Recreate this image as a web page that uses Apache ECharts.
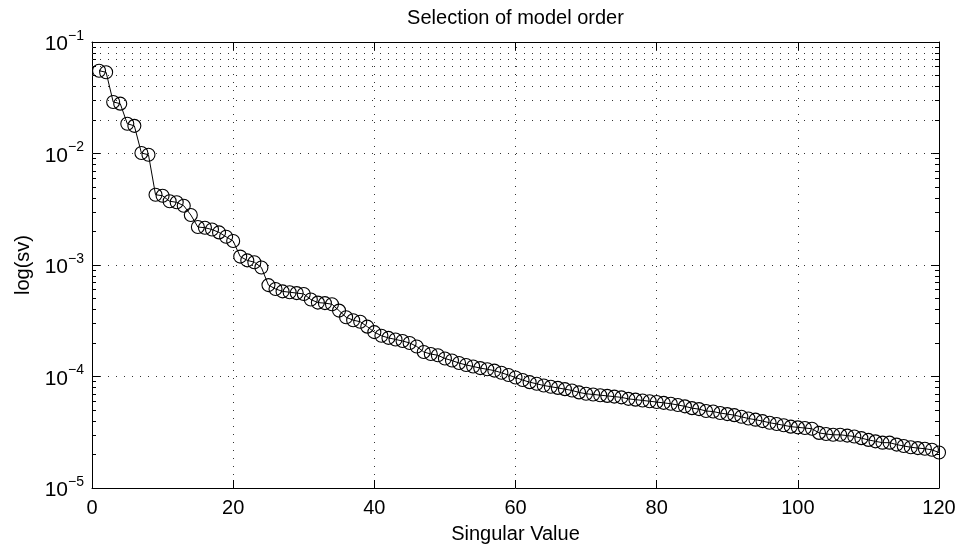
<!DOCTYPE html>
<html>
<head>
<meta charset="utf-8">
<script src="https://cdn.jsdelivr.net/npm/echarts@6/dist/echarts.min.js"></script>
<style>
  html, body { margin: 0; padding: 0; background: #fff; }
  #chart { width: 965px; height: 550px; }
</style>
</head>
<body>
<div id="chart"></div>
<script>
// singular values, index 1..120
const svIndex = [];
for (let i = 1; i <= 120; i++) svIndex.push(i);

const svValues = [
    0.0553, 0.0535, 0.0290, 0.0280, 0.0185, 0.0177, 0.0101, 0.00975, 0.00427, 0.00418,
    0.00373, 0.00365, 0.00340, 0.00281, 0.00219, 0.00216, 0.00208, 0.00196, 0.00179, 0.00164,
    0.00119, 0.00110, 0.00106, 0.00095, 0.00066, 0.00061, 0.00058, 0.00057, 0.00056, 0.00055,
    0.00049, 0.00046, 0.000455, 0.000445, 0.00039, 0.00034, 0.00032, 0.00031, 0.00028, 0.00025,
    0.000232, 0.000222, 0.000215, 0.000208, 0.000200, 0.000186, 0.000166, 0.000159, 0.000155, 0.000145,
    0.000139, 0.000132, 0.000127, 0.000123, 0.000119, 0.000116, 0.000113, 0.000108, 0.000103, 0.000098,
    0.000093, 0.000089, 0.000086, 0.000083, 0.000081, 0.000079, 0.000077, 0.000075, 0.000072, 0.000070,
    0.000069, 0.000068, 0.000067, 0.000066, 0.000065, 0.000063, 0.000062, 0.000061, 0.000060, 0.000059,
    0.000058, 0.000057, 0.0000555, 0.000054, 0.000052, 0.000051, 0.000049, 0.0000485, 0.000047, 0.000046,
    0.000045, 0.0000435, 0.000042, 0.000041, 0.0000398, 0.0000385, 0.0000375, 0.0000365, 0.0000355, 0.000035,
    0.0000345, 0.000034, 0.0000312, 0.0000305, 0.000030, 0.000030, 0.0000295, 0.000029, 0.000028, 0.000027,
    0.0000262, 0.0000255, 0.0000255, 0.0000245, 0.0000238, 0.0000232, 0.0000228, 0.0000225, 0.000022, 0.0000208
];

// y axis: decades and the 2..9 minor lines between them
const decades = [1e-5, 1e-4, 1e-3, 1e-2, 1e-1];
const minorVals = [];
for (let d = 0; d < decades.length - 1; d++) {
    for (let m = 2; m <= 9; m++) minorVals.push(+(decades[d] * m).toPrecision(3));
}

const FONT = 'Liberation Sans';
const FS = 20;
const dotted = { color: '#333', width: 1, type: [1, 7] };

function supLabel(v) {
    let e = Math.round(Math.log10(v));
    return '{b|10}{s|' + (e < 0 ? '\u2212' + (-e) : e) + '}';
}

let chartDom = document.getElementById('chart');
let myChart = echarts.init(chartDom, null, { renderer: 'canvas' });

let baseY = {
    type: 'log',
    logBase: 10,
    min: 1e-5,
    max: 1e-1,
    axisLine: { show: true, lineStyle: { color: '#000', width: 1 } },
    splitLine: { show: false },
    axisLabel: { show: false },
    axisTick: { show: true, inside: true, length: 8, lineStyle: { color: '#000' } }
};

let option = {
    backgroundColor: '#fff',
    animation: false,
    textStyle: { fontFamily: FONT },
    grid: { left: 92, right: 26, top: 42, bottom: 62 },
    xAxis: [
        {
            type: 'value', position: 'bottom', min: 0, max: 120, interval: 20,
            name: 'Singular Value', nameLocation: 'middle', nameGap: 36,
            nameTextStyle: { fontSize: FS, color: '#000', fontFamily: FONT },
            axisLine: { show: true, lineStyle: { color: '#000', width: 1 } },
            axisTick: { inside: true, length: 8, lineStyle: { color: '#000' } },
            axisLabel: { fontSize: FS, color: '#000', margin: 10, fontFamily: FONT },
            splitLine: { show: true, lineStyle: dotted }
        },
        {
            type: 'value', position: 'top', min: 0, max: 120, interval: 20,
            name: 'Selection of model order', nameLocation: 'middle', nameGap: 14,
            nameTextStyle: { fontSize: FS, color: '#000', fontFamily: FONT },
            axisLine: { show: true, lineStyle: { color: '#000', width: 1 } },
            axisTick: { inside: true, length: 8, lineStyle: { color: '#000' } },
            axisLabel: { show: false },
            splitLine: { show: false }
        }
    ],
    yAxis: [
        Object.assign({}, baseY, {
            position: 'left',
            name: 'log(sv)', nameLocation: 'middle', nameGap: 52,
            nameTextStyle: { fontSize: FS, color: '#000', fontFamily: FONT },
            splitLine: { show: true, lineStyle: dotted },
            axisLabel: {
                show: true, margin: 8, color: '#000',
                formatter: supLabel,
                rich: {
                    b: { fontSize: FS + 1, fontFamily: FONT, color: '#000', verticalAlign: 'bottom', lineHeight: 26 },
                    s: { fontSize: 14, fontFamily: FONT, color: '#000', verticalAlign: 'top', lineHeight: 26 }
                }
            }
        }),
        Object.assign({}, baseY, {
            position: 'left', axisLine: { show: false },
            axisTick: { show: true, inside: true, length: 4, customValues: minorVals, lineStyle: { color: '#000' } }
        }),
        Object.assign({}, baseY, { position: 'right' }),
        Object.assign({}, baseY, {
            position: 'right', axisLine: { show: false },
            axisTick: { show: true, inside: true, length: 4, customValues: minorVals, lineStyle: { color: '#000' } }
        })
    ],
    series: [
        {
            type: 'line',
            xAxisIndex: 0,
            yAxisIndex: 0,
            data: svIndex.map((x, i) => [x, svValues[i]]),
            symbol: 'circle',
            symbolSize: 13,
            showSymbol: true,
            itemStyle: { color: 'rgba(0,0,0,0)', borderColor: '#000', borderWidth: 1.1 },
            lineStyle: { color: '#000', width: 1 },
            z: 5,
            markLine: {
                silent: true,
                symbol: 'none',
                label: { show: false },
                lineStyle: dotted,
                emphasis: { disabled: true },
                data: minorVals.map(v => ({ yAxis: v }))
            }
        }
    ]
};

option && myChart.setOption(option);
</script>
</body>
</html>
